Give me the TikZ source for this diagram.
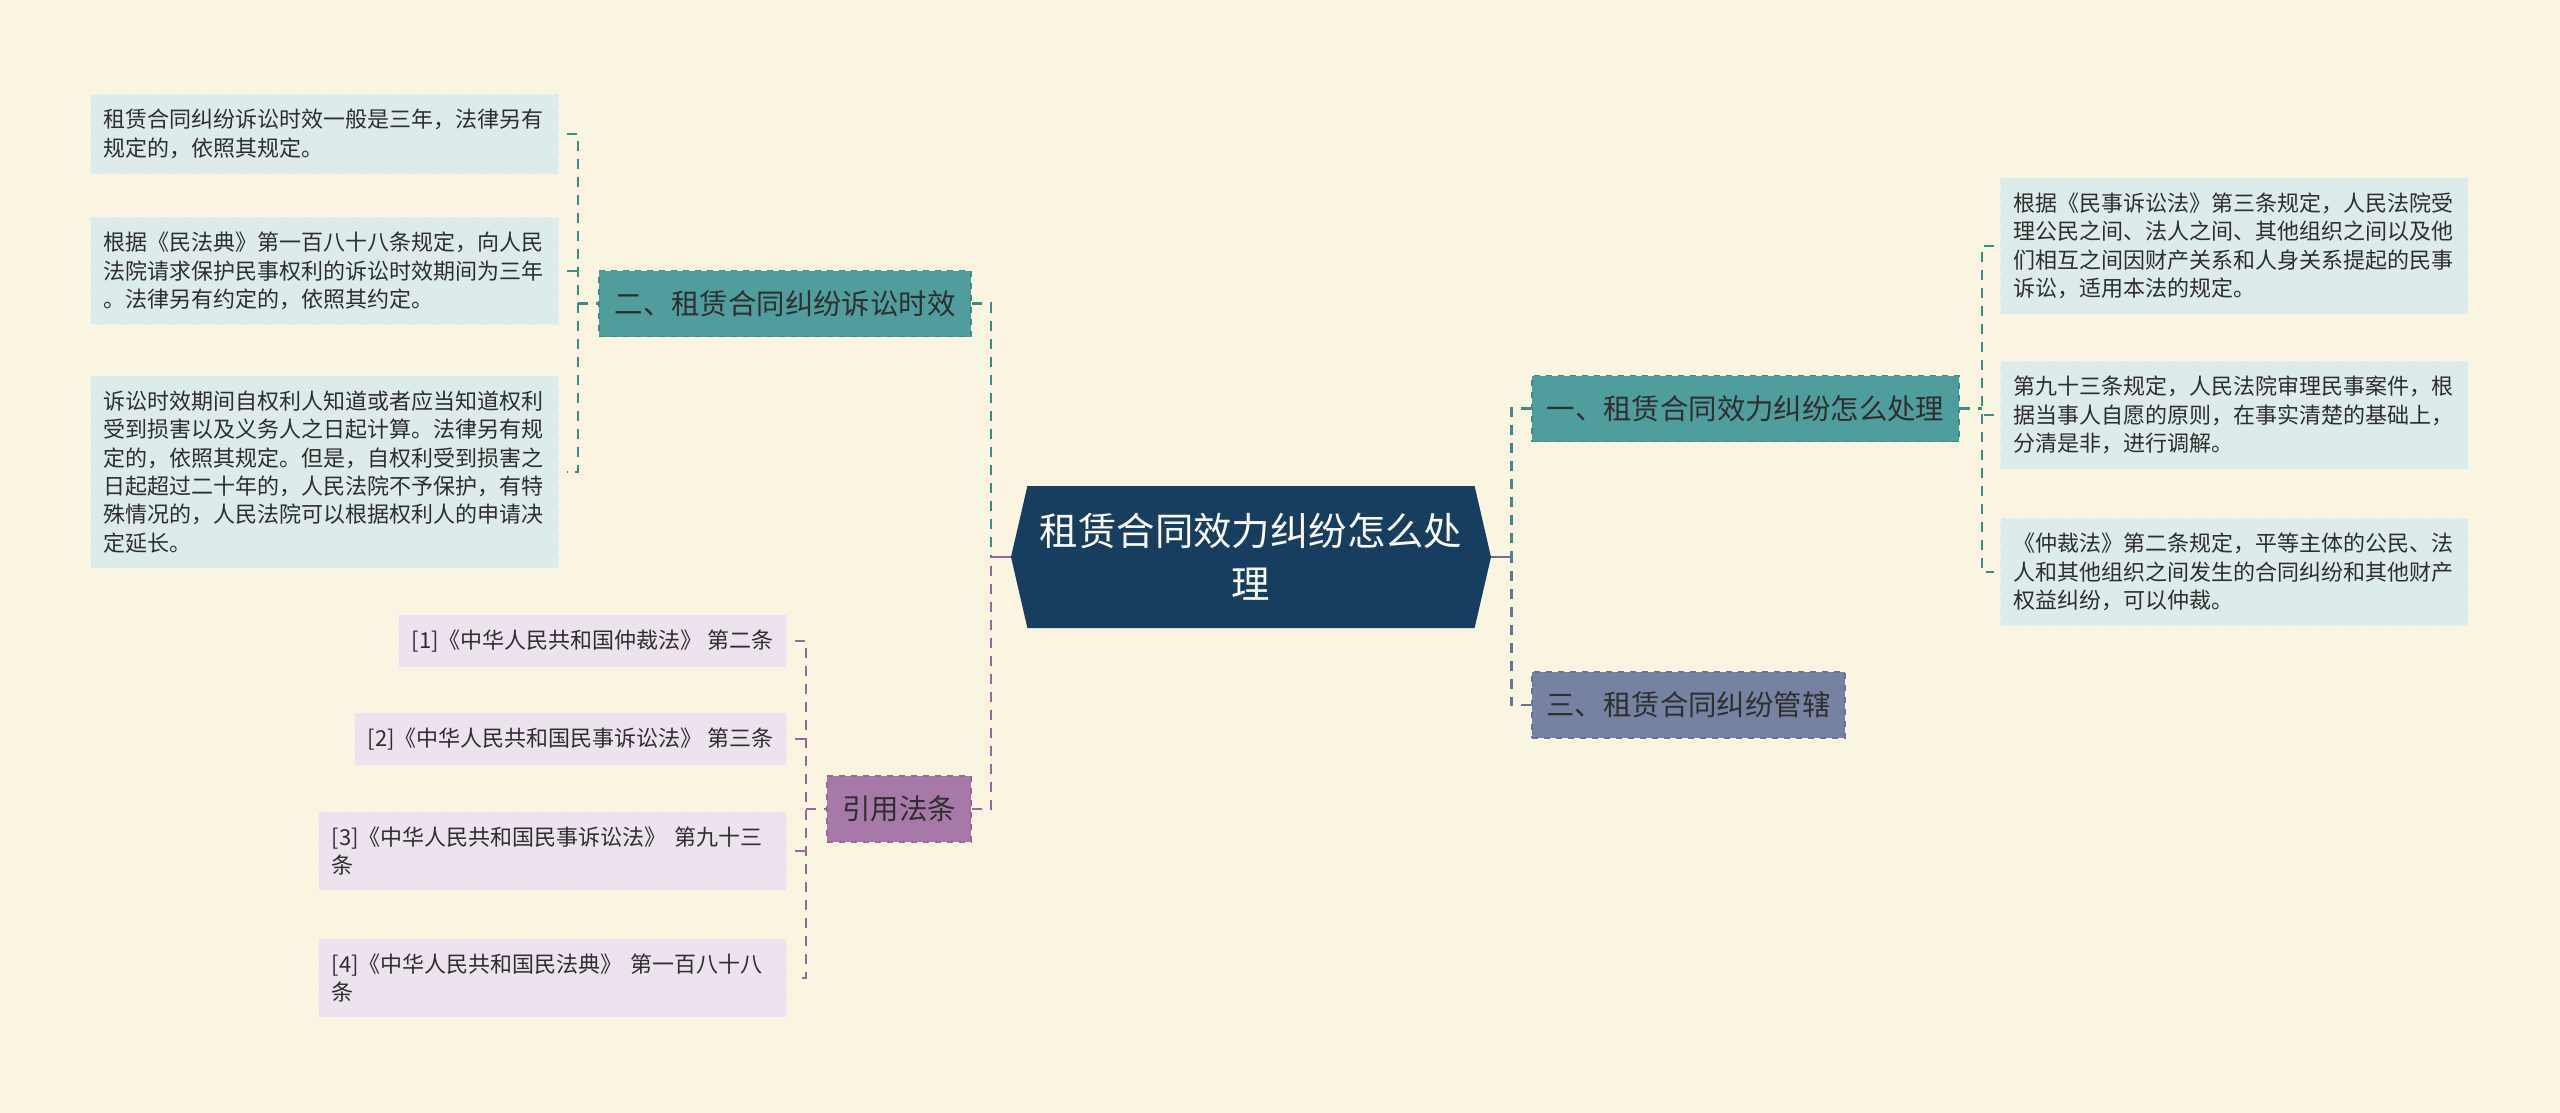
\documentclass[tikz,border=0pt]{standalone}
\usepackage{fontspec}
\setmainfont{Noto Sans CJK SC}
\usetikzlibrary{positioning,calc,shapes.symbols}
\definecolor{Paper}{HTML}{FAF5E0}
\definecolor{Hub}{HTML}{173E5E}
\definecolor{Teal}{HTML}{4F9D9C}
\definecolor{TealLine}{HTML}{3F8B88}
\definecolor{Slate}{HTML}{7782A2}
\definecolor{SlateLine}{HTML}{67739A}
\definecolor{Plum}{HTML}{A779A8}
\definecolor{PlumLine}{HTML}{95699A}
\definecolor{Note}{HTML}{DDEBEA}
\definecolor{Cite}{HTML}{EDE3EE}
\definecolor{Ink}{HTML}{2E2E2E}

\begin{document}
\begin{tikzpicture}[x=0.5pt,y=-0.5pt,
 hub/.style={shape=signal,signal to=west and east,signal pointer angle=154,fill=Hub,text=white,minimum width=240pt,minimum height=71pt,inner sep=0pt,align=center,font=\fontsize{19.2}{26.5}\selectfont},
 topic/.style={draw,dashed,line width=0.8pt,text=Ink,minimum height=33pt,inner xsep=7pt,inner ysep=0pt,font=\fontsize{14.2}{17}\selectfont},
 note/.style={fill=Note,draw=white!50!Note,dashed,text=Ink,inner xsep=6.5pt,inner ysep=7.5pt,font=\fontsize{11}{14.2}\selectfont},
 noteW/.style={note,text width=221pt,align=left},
 link/.style={line width=1.1pt,dash pattern=on 5pt off 4pt}
]
\fill[Paper] (0,0) rectangle (2560,1113);
% centre and branches
\node[hub] (root) at (1251,557) {租赁合同效力纠纷怎么处\\理};
\node[topic,fill=Teal,draw=TealLine,minimum width=186pt] (two) at (785,303.5) {二、租赁合同纠纷诉讼时效};
\node[topic,fill=Plum,draw=PlumLine,minimum width=72pt] (cite) at (899,809) {引用法条};
\node[topic,fill=Teal,draw=TealLine,minimum width=213.5pt] (one) at (1745.5,408.5) {一、租赁合同效力纠纷怎么处理};
\node[topic,fill=Slate,draw=SlateLine,minimum width=156.5pt] (three) at (1688.5,705) {三、租赁合同纠纷管辖};
% left notes
\node[noteW,anchor=east] (t1) at (559,134) {租赁合同纠纷诉讼时效一般是三年，法律另有\\规定的，依照其规定。};
\node[noteW,anchor=east] (t2) at (559,271) {根据《民法典》第一百八十八条规定，向人民\\法院请求保护民事权利的诉讼时效期间为三年\\。法律另有约定的，依照其约定。};
\node[noteW,anchor=east] (t3) at (559,472) {诉讼时效期间自权利人知道或者应当知道权利\\受到损害以及义务人之日起计算。法律另有规\\定的，依照其规定。但是，自权利受到损害之\\日起超过二十年的，人民法院不予保护，有特\\殊情况的，人民法院可以根据权利人的申请决\\定延长。};
% cited laws
\node[note,fill=Cite,draw=white!50!Cite,anchor=east] (f1) at (787,641) {[1]《中华人民共和国仲裁法》 第二条};
\node[note,fill=Cite,draw=white!50!Cite,anchor=east] (f2) at (787,739) {[2]《中华人民共和国民事诉讼法》 第三条};
\node[noteW,fill=Cite,draw=white!50!Cite,anchor=east] (f3) at (787,851) {[3]《中华人民共和国民事诉讼法》 第九十三\\条};
\node[noteW,fill=Cite,draw=white!50!Cite,anchor=east] (f4) at (787,978) {[4]《中华人民共和国民法典》 第一百八十八\\条};
% right notes
\node[noteW,anchor=west] (d1) at (2000,246) {根据《民事诉讼法》第三条规定，人民法院受\\理公民之间、法人之间、其他组织之间以及他\\们相互之间因财产关系和人身关系提起的民事\\诉讼，适用本法的规定。};
\node[noteW,anchor=west] (d2) at (2000,415) {第九十三条规定，人民法院审理民事案件，根\\据当事人自愿的原则，在事实清楚的基础上，\\分清是非，进行调解。};
\node[noteW,anchor=west] (d3) at (2000,572) {《仲裁法》第二条规定，平等主体的公民、法\\人和其他组织之间发生的合同纠纷和其他财产\\权益纠纷，可以仲裁。};
% links, left side
\coordinate (lj) at ([xshift=-10pt]two.west);
\draw[link,draw=TealLine] ([xshift=4pt]t1.east) -| (lj |- t3.east) -- ([xshift=4pt]t3.east);
\draw[link,draw=TealLine] ([xshift=4pt]t2.east) -- (lj |- t2.east);
\draw[link,draw=TealLine] (lj) -- (two.west);
\coordinate (cj) at ([xshift=-10pt]root.west);
\draw[link,draw=TealLine] (two.east) -| (cj);
\draw[link,draw=PlumLine] (cite.east) -| (cj);
\draw[line width=1.4pt,draw=PlumLine] (cj) -- (root.west);
\coordinate (fj) at ([xshift=-10pt]cite.west);
\draw[link,draw=PlumLine] ([xshift=4pt]f1.east) -| (fj |- f4.east) -- ([xshift=4pt]f4.east);
\foreach \n in {f2,f3} \draw[link,draw=PlumLine] ([xshift=4pt]\n.east) -- (fj |- \n.east);
\draw[link,draw=PlumLine] (fj) -- (cite.west);
% links, right side
\coordinate (rj) at ([xshift=10pt]root.east);
\draw[link,draw=TealLine] (one.west) -| (rj);
\draw[link,draw=SlateLine] (three.west) -| (rj);
\draw[line width=1.4pt,draw=SlateLine] (rj) -- (root.east);
\coordinate (oj) at ([xshift=11pt]one.east);
\draw[link,draw=TealLine] ([xshift=-3pt]d1.west) -| (oj |- d3.west) -- ([xshift=-3pt]d3.west);
\draw[link,draw=TealLine] ([xshift=-3pt]d2.west) -- (oj |- d2.west);
\draw[link,draw=TealLine] (one.east) -- (oj);
\end{tikzpicture}
\end{document}
